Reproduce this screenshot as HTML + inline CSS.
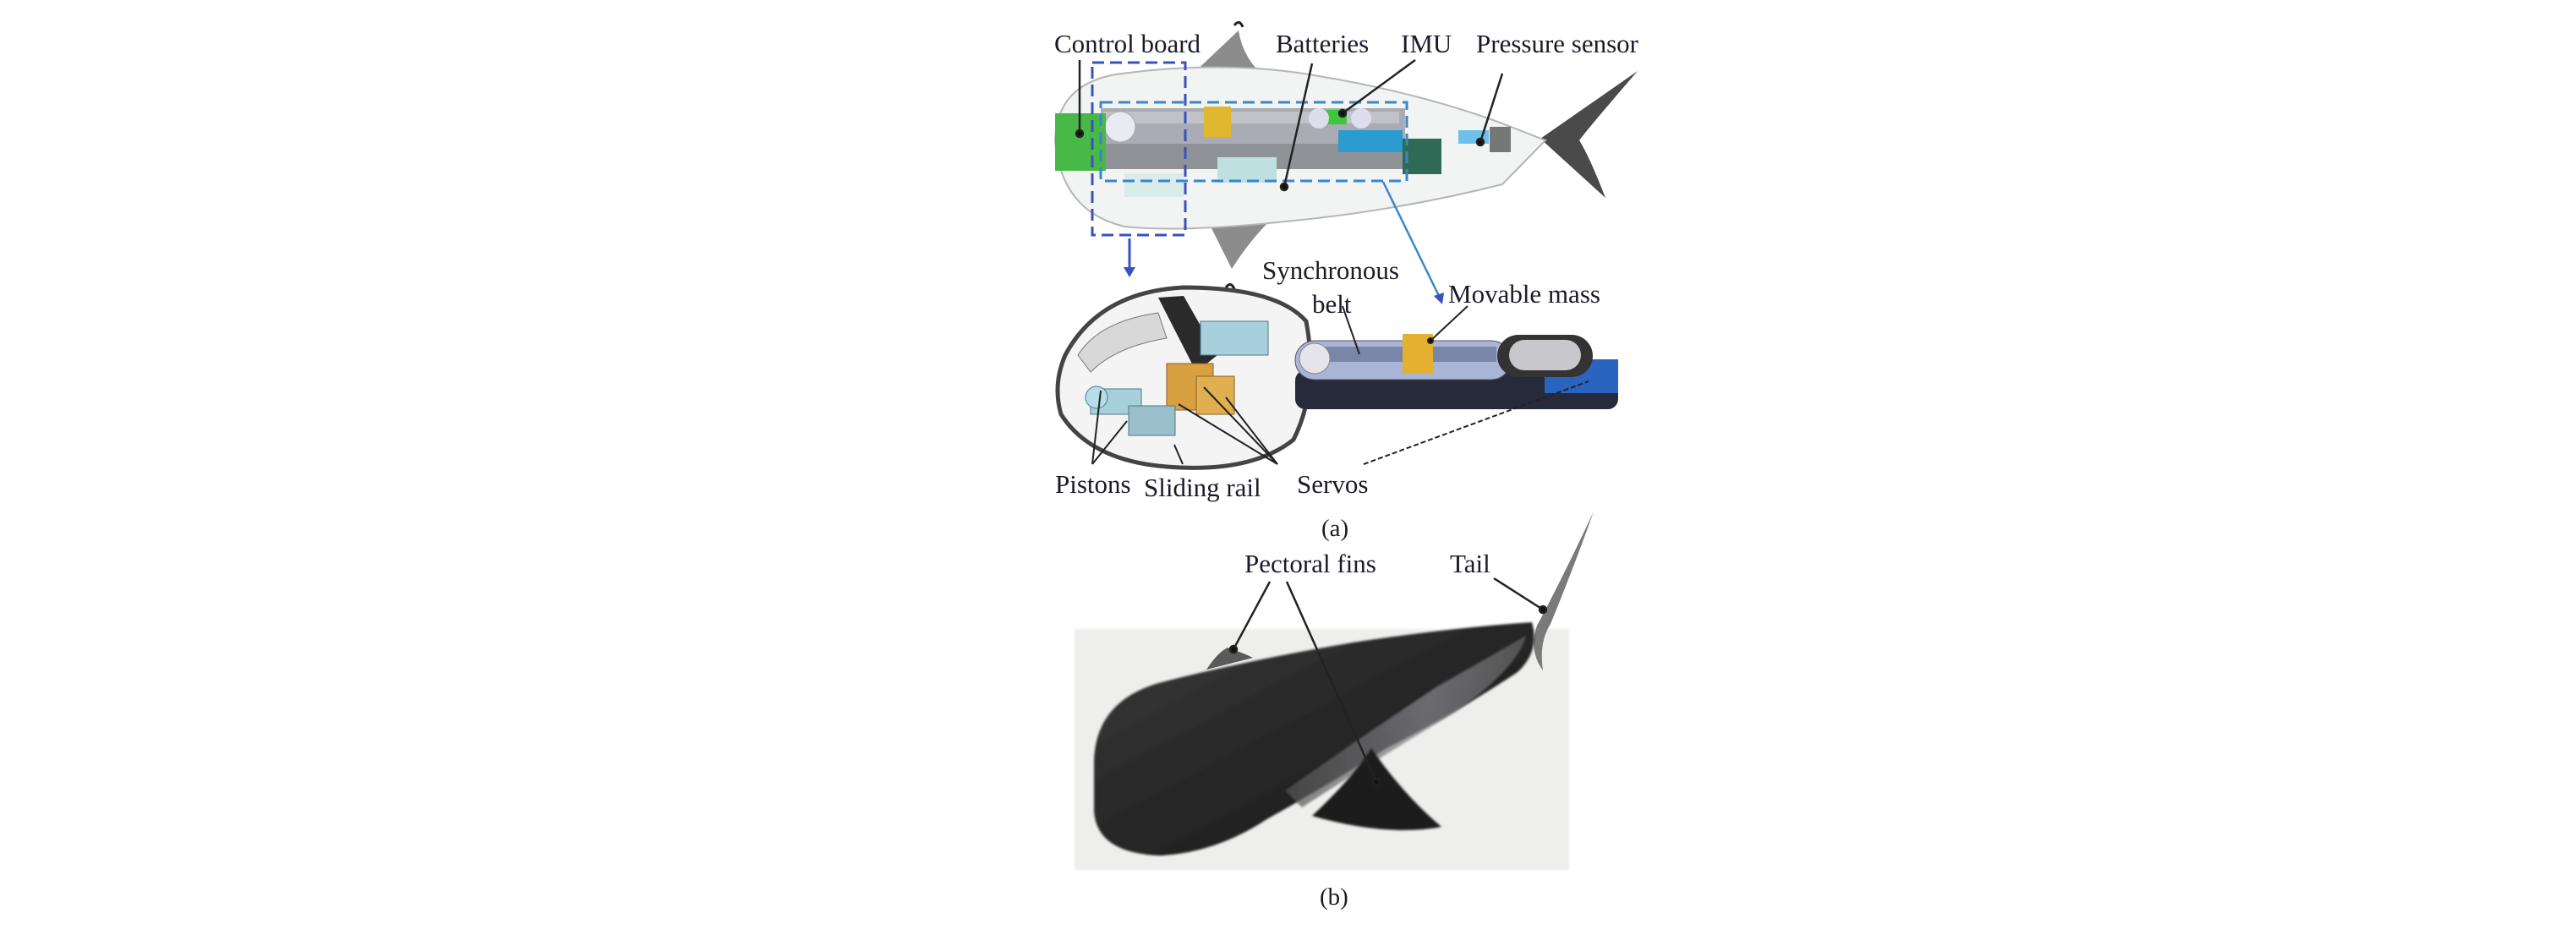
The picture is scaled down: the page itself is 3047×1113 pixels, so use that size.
<!DOCTYPE html>
<html><head><meta charset="utf-8"><style>
html,body{margin:0;padding:0;background:#fff;}
svg{display:block}
text{font-family:"Liberation Serif",serif;font-size:31px;fill:#1a1a2a;}
</style></head><body>
<svg width="3047" height="1113" viewBox="0 0 3047 1113" xmlns="http://www.w3.org/2000/svg">
<defs>
<linearGradient id="bodyg" x1="0" y1="0" x2="1" y2="1">
<stop offset="0" stop-color="#3a3a3a"/><stop offset="0.5" stop-color="#262626"/><stop offset="1" stop-color="#1a1a1a"/>
</linearGradient>
<linearGradient id="shine" x1="0" y1="0" x2="1" y2="0">
<stop offset="0" stop-color="#555"/><stop offset="0.6" stop-color="#8a8a90"/><stop offset="1" stop-color="#666"/>
</linearGradient>
<filter id="bl"><feGaussianBlur stdDeviation="1.2"/></filter>
</defs>

<!-- ===== (a) top fish ===== -->
<path d="M1408,90 L1465,36 Q1470,70 1500,95 L1560,106 Z" fill="#8c8c8c"/>
<path d="M1412,228 L1558,220 Q1500,250 1457,318 Z" fill="#8c8c8c"/>
<path d="M1460,30 q6,-8 10,2" stroke="#222" stroke-width="3" fill="none"/>
<path d="M1450,340 q6,-8 10,2" stroke="#222" stroke-width="3" fill="none"/>
<path d="M1822,164 L1937,84 Q1880,150 1868,166 Q1880,185 1899,234 Z" fill="#4a4a4a"/>
<path d="M1248,166 Q1250,100 1320,88 Q1450,70 1560,90 Q1680,110 1777,146 L1828,166 L1777,218 Q1650,250 1520,262 Q1400,275 1330,268 Q1255,250 1248,166 Z" fill="#f2f4f4" stroke="#b5b5b5" stroke-width="2"/>
<rect x="1302" y="128" width="360" height="42" fill="#a9adb3"/>
<rect x="1302" y="170" width="360" height="30" fill="#8f9398"/>
<rect x="1305" y="132" width="350" height="14" fill="#bfc3c8"/>
<circle cx="1325" cy="150" r="18" fill="#e8ecf2" stroke="#aaa"/>
<rect x="1440" y="186" width="70" height="30" fill="#bfe0e0"/>
<rect x="1330" y="205" width="70" height="28" fill="#d8ecec"/>
<rect x="1248" y="134" width="60" height="68" fill="#48b848"/>
<rect x="1424" y="126" width="32" height="36" fill="#e0b830"/>
<rect x="1567" y="130" width="26" height="17" fill="#3cc83c"/>
<circle cx="1560" cy="140" r="12" fill="#dde"/>
<circle cx="1610" cy="140" r="12" fill="#dde"/>
<rect x="1583" y="154" width="76" height="26" fill="#2b9bd0"/>
<rect x="1659" y="164" width="46" height="42" fill="#2e6a55"/>
<rect x="1725" y="154" width="36" height="16" fill="#6fc0e8"/>
<rect x="1762" y="150" width="25" height="30" fill="#777"/>
<rect x="1292" y="74" width="110" height="204" fill="none" stroke="#3a50c0" stroke-width="3" stroke-dasharray="14,7"/>
<rect x="1302" y="121" width="362" height="93" fill="none" stroke="#3a86c8" stroke-width="3" stroke-dasharray="14,7"/>
<line x1="1336" y1="282" x2="1336" y2="318" stroke="#3a50c0" stroke-width="3"/>
<path d="M1329,316 L1343,316 L1336,328 Z" fill="#3a50c0"/>
<line x1="1636" y1="215" x2="1702" y2="350" stroke="#3a86c8" stroke-width="2.5"/>
<path d="M1696,350 L1708,346 L1706,360 Z" fill="#3a50c0"/>

<g stroke="#222" stroke-width="2.5" fill="#111">
<line x1="1277" y1="71" x2="1277" y2="158"/><circle cx="1277" cy="158" r="4"/>
<line x1="1552" y1="75" x2="1519" y2="221"/><circle cx="1519" cy="221" r="4"/>
<line x1="1674" y1="71" x2="1588" y2="134"/><circle cx="1588" cy="134" r="4"/>
<line x1="1777" y1="87" x2="1751" y2="168"/><circle cx="1751" cy="168" r="4"/>
</g>
<text x="1247" y="62">Control board</text>
<text x="1509" y="62">Batteries</text>
<text x="1657" y="62">IMU</text>
<text x="1746" y="62">Pressure sensor</text>

<!-- left inset -->
<path d="M1260,420 Q1300,345 1400,340 Q1510,340 1545,380 Q1560,460 1530,520 Q1480,560 1380,552 Q1290,545 1255,490 Q1245,455 1260,420 Z" fill="#f4f4f4" stroke="#444" stroke-width="5"/>
<path d="M1370,352 L1400,350 L1440,420 L1415,440 Z" fill="#2a2a2a"/>
<path d="M1275,420 Q1300,380 1370,370 L1380,400 Q1320,410 1290,440 Z" fill="#d8d8d8" stroke="#777"/>
<rect x="1420" y="380" width="80" height="40" fill="#a8cfdc" stroke="#4a7a8a"/>
<rect x="1290" y="460" width="60" height="30" fill="#a8cfdc" stroke="#4a7a8a"/>
<circle cx="1297" cy="470" r="13" fill="#b8dce8" stroke="#4a7a8a"/>
<rect x="1380" y="430" width="55" height="55" fill="#d8a040" stroke="#8a6020"/>
<rect x="1415" y="445" width="45" height="45" fill="#e0b050" stroke="#8a6020"/>
<rect x="1335" y="480" width="55" height="35" fill="#9bbfca" stroke="#4a7a8a"/>

<!-- right inset -->
<rect x="1532" y="438" width="382" height="46" rx="12" fill="#252b3a"/>
<rect x="1827" y="425" width="87" height="40" fill="#2a63c0"/>
<rect x="1532" y="403" width="255" height="46" rx="23" fill="#aab4d4" stroke="#556"/>
<rect x="1555" y="410" width="215" height="18" fill="#7a86a8"/>
<circle cx="1555" cy="424" r="18" fill="#e4e4ea" stroke="#888"/>
<rect x="1659" y="395" width="36" height="46" fill="#e4b030"/>
<rect x="1771" y="396" width="113" height="50" rx="25" fill="#333"/>
<rect x="1785" y="402" width="85" height="36" rx="18" fill="#c8c8cc"/>

<g stroke="#222" stroke-width="2" fill="#111">
<line x1="1588" y1="362" x2="1608" y2="419"/>
<line x1="1736" y1="362" x2="1692" y2="403"/><circle cx="1692" cy="403" r="3"/>
<line x1="1292" y1="549" x2="1302" y2="462"/>
<line x1="1292" y1="549" x2="1333" y2="498"/>
<line x1="1399" y1="549" x2="1389" y2="526"/>
<line x1="1511" y1="549" x2="1424" y2="458"/>
<line x1="1511" y1="549" x2="1394" y2="478"/>
<line x1="1511" y1="549" x2="1450" y2="470"/>
<line x1="1613" y1="549" x2="1879" y2="451" stroke-dasharray="6,3"/>
</g>
<text x="1493" y="330">Synchronous</text>
<text x="1552" y="370">belt</text>
<text x="1713" y="358">Movable mass</text>
<text x="1248" y="583">Pistons</text>
<text x="1353" y="587">Sliding rail</text>
<text x="1534" y="583">Servos</text>
<text x="1563" y="634" style="font-size:29px">(a)</text>

<!-- ===== (b) photo ===== -->
<rect x="1271" y="744" width="585" height="285" fill="#eeeeec" filter="url(#bl)"/>
<path d="M1885,605 Q1850,680 1818,740 Q1808,770 1825,793 Q1820,760 1834,738 Q1862,670 1885,605 Z" fill="#7a7a7a"/>
<path d="M1427,792 Q1440,772 1452,766 Q1470,772 1482,778 Z" fill="#5a5a5a"/>
<path d="M1294,900 Q1296,830 1370,808 Q1470,782 1600,760 Q1720,742 1812,736 Q1822,770 1795,795 Q1720,845 1640,885 Q1560,935 1500,968 Q1440,1008 1374,1012 Q1298,1010 1294,960 Z" fill="url(#bodyg)" filter="url(#bl)"/>
<path d="M1520,935 Q1620,865 1700,812 Q1770,772 1805,752 Q1795,790 1722,842 Q1622,902 1540,955 Z" fill="url(#shine)" opacity="0.7" filter="url(#bl)"/>
<path d="M1552,965 Q1600,920 1622,885 Q1660,940 1705,978 Q1640,990 1552,965 Z" fill="#1e1e1e" filter="url(#bl)"/>
<g stroke="#222" stroke-width="2.5" fill="#111">
<line x1="1502" y1="688" x2="1459" y2="768"/><circle cx="1459" cy="768" r="4"/>
<line x1="1522" y1="688" x2="1628" y2="925"/><circle cx="1628" cy="925" r="4"/>
<line x1="1767" y1="684" x2="1825" y2="721"/><circle cx="1825" cy="721" r="4"/>
</g>
<text x="1472" y="677">Pectoral fins</text>
<text x="1715" y="677">Tail</text>
<text x="1561" y="1070" style="font-size:29px">(b)</text>
</svg>
</body></html>
